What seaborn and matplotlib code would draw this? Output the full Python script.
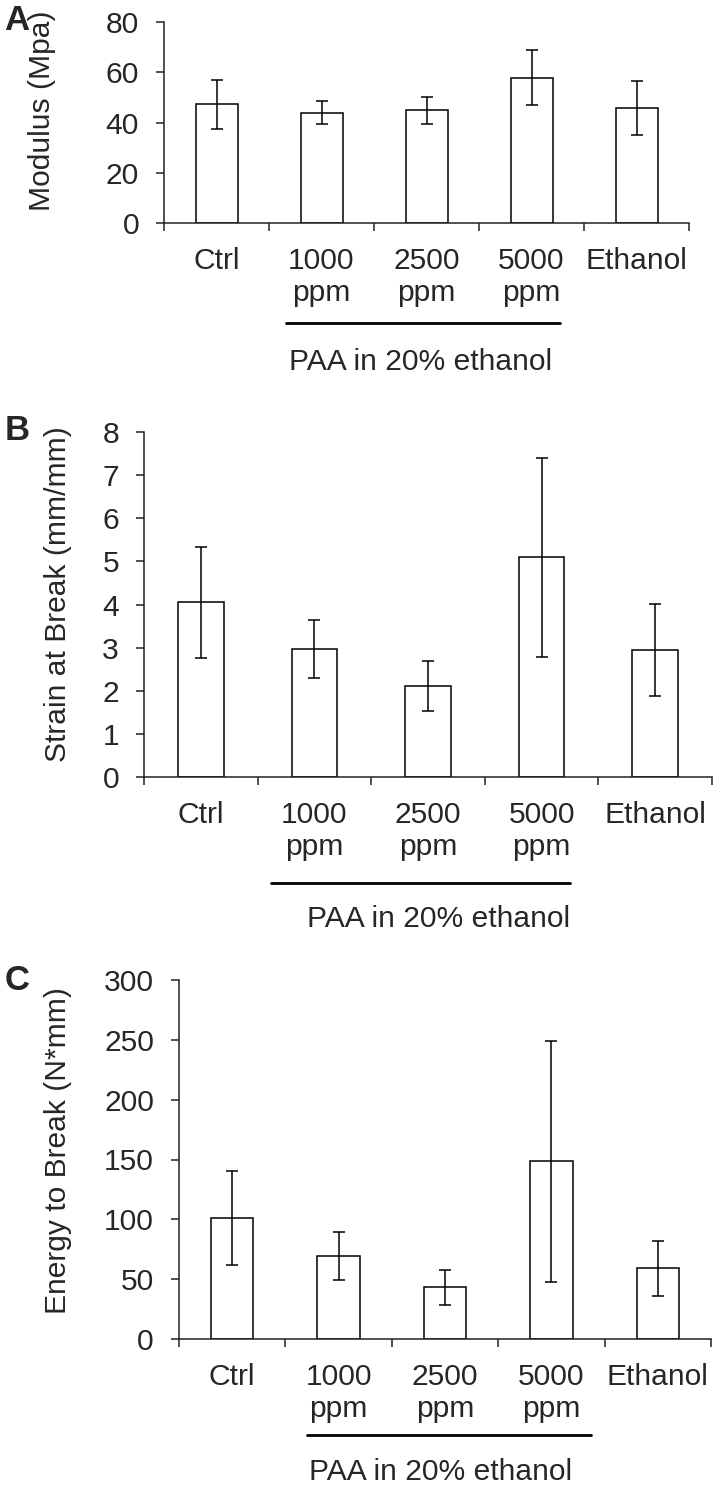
import numpy as np
import pandas as pd
import matplotlib
matplotlib.use('Agg')
import matplotlib.pyplot as plt
import seaborn as sns

# Data (mean and SD)
categories = ['Ctrl', '1000\nppm', '2500\nppm', '5000\nppm', 'Ethanol']

modulus_mean = [47.3, 43.9, 44.9, 57.8, 45.9]
modulus_sd = [9.8, 4.5, 5.4, 11.0, 10.7]

strain_mean = [4.05, 2.97, 2.10, 5.09, 2.95]
strain_sd = [1.28, 0.68, 0.58, 2.30, 1.07]

energy_mean = [101, 69.4, 43.1, 148.5, 59]
energy_sd = [39, 20.3, 14.4, 100.5, 23]

ylabels = ['Modulus (Mpa)', 'Strain at Break (mm/mm)', 'Energy to Break (N*mm)']
panel_letters = ['A', 'B', 'C']
yticks = [np.arange(0, 81, 20), np.arange(0, 9, 1), np.arange(0, 301, 50)]
group_label = 'PAA in 20% ethanol'

sns.set_style('ticks')
plt.rcParams['font.family'] = ['Liberation Sans', 'DejaVu Sans']
fs = 21.6

W, H = 720, 1488
fig = plt.figure(figsize=(7.2, 14.88), dpi=100)

# axes boxes in pixels: left, top, right, bottom
boxes = [(164, 22, 689, 223), (144, 432, 712, 777), (179, 980, 711, 1339)]
# bracket line (x from, x to, y in axes fraction) and group text (x, y)
brackets = [(0.66, 3.27, -0.496), (0.62, 3.25, -0.307), (0.70, 3.37, -0.267)]
group_text = [(1.94, -0.69), (2.09, -0.413), (1.96, -0.37)]
ylabel_pos = [(-0.206, 0.56), (-0.127, 0.53), (-0.201, 0.526)]
letter_y = [20, 430, 980]

means = [modulus_mean, strain_mean, energy_mean]
sds = [modulus_sd, strain_sd, energy_sd]

for i in range(3):
    l, t, r, b = boxes[i]
    ax = fig.add_axes([l / W, 1 - b / H, (r - l) / W, (b - t) / H])
    df = pd.DataFrame({'group': categories, 'value': means[i]})
    sns.barplot(data=df, x='group', y='value', color='white', edgecolor='black',
                linewidth=1.1, width=0.4, errorbar=None, ax=ax)
    ax.errorbar(range(len(categories)), means[i], yerr=sds[i], fmt='none',
                ecolor='black', elinewidth=1.1, capsize=4.6, capthick=1.1)

    ax.set_xlim(-0.5, 4.5)
    ax.set_ylim(yticks[i][0], yticks[i][-1])
    ax.set_yticks(yticks[i])
    ax.set_xticks(range(len(categories)))
    ax.set_xticklabels(categories)
    ax.set_xticks(np.arange(-0.5, 5, 1), minor=True)
    ax.tick_params(axis='x', which='major', length=0, pad=17, labelsize=fs)
    ax.tick_params(axis='x', which='minor', length=6, width=1.1, color='#222222')
    ax.tick_params(axis='y', length=6, width=1.1, pad=12, labelsize=fs, color='#222222')
    ax.set_xlabel('')
    ax.set_ylabel(ylabels[i], fontsize=fs)
    ax.yaxis.set_label_coords(*ylabel_pos[i])
    sns.despine(ax=ax)
    for s in ['left', 'bottom']:
        ax.spines[s].set_linewidth(1.1)
        ax.spines[s].set_color('#222222')

    x0, x1, yb = brackets[i]
    ax.plot([x0, x1], [yb, yb], color='black', lw=2.0,
            transform=ax.get_xaxis_transform(), clip_on=False)
    gx, gy = group_text[i]
    ax.text(gx, gy, group_label, transform=ax.get_xaxis_transform(),
            ha='center', va='center', fontsize=fs)

    fig.text(17 / W, 1 - letter_y[i] / H, panel_letters[i], fontsize=25,
             fontweight='bold', ha='center', va='center')

fig.savefig('out.png', dpi=100, facecolor='white')
